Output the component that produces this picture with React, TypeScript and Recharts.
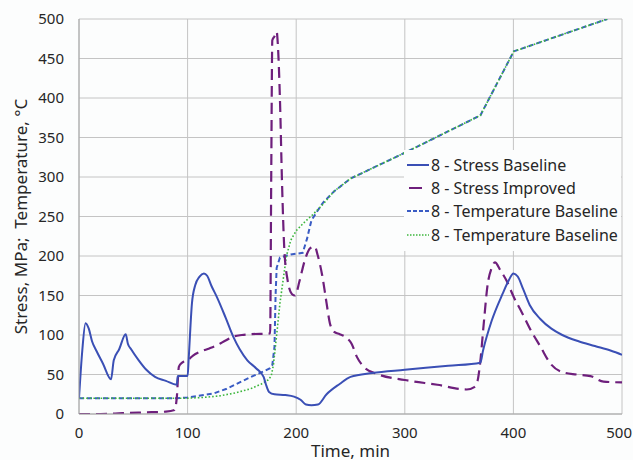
import React from 'react';
import { LineChart, Line, XAxis, YAxis, CartesianGrid, Legend } from 'recharts';

// time (min) / value pairs
const stressBaselineT = [0, 3, 6, 9, 12, 16, 22, 29.5, 32, 37, 43, 45, 48, 55, 62, 70, 80, 90, 91, 100, 101, 104, 107, 111, 115, 118, 122, 127, 135, 142, 148, 155, 163, 170, 172, 175, 180, 190, 198, 204, 209, 214, 220, 228, 240, 250, 270, 300, 340, 369.6, 372, 380, 390, 396, 400, 404, 409, 415, 425, 435, 445, 460, 475, 490, 500];
const stressBaselineV = [20, 80, 115, 108, 92, 80, 64, 44, 68, 82, 101, 89, 82, 68, 56, 47, 42, 37, 48, 48, 70, 140, 163, 174, 178, 175, 162, 148, 122, 98, 82, 68, 58, 47, 38, 28, 25, 24, 22, 18, 12, 11, 12, 25, 38, 47, 52, 56, 61, 65, 80, 118, 152, 170, 178, 174, 158, 138, 120, 108, 100, 92, 86, 80, 75];

const stressImprovedT = [0, 20, 40, 60, 80, 88, 90, 92, 95, 100, 105, 112, 120, 127, 135, 142, 150, 158, 176, 177, 178, 180, 182, 183, 185, 187, 189, 192, 196, 199, 203, 208, 213, 217, 220, 224, 228, 231, 235, 240, 246, 251, 256, 262, 274, 300, 330, 357, 364, 367, 369, 373, 376, 380, 383, 388, 394, 400, 408, 416, 425, 434, 445, 458, 471, 483, 500];
const stressImprovedV = [0, 0, 1, 2, 3, 5, 20, 60, 65, 68, 74, 79, 83, 87, 93, 98, 100, 101, 102, 300, 473, 478, 484, 470, 400, 290, 210, 170, 152, 150, 168, 195, 210, 212, 200, 175, 140, 115, 104, 101, 97, 89, 72, 60, 51, 43, 37, 31, 34, 42, 60, 119, 161, 185, 192, 182, 168, 149, 128, 106, 85, 64, 53, 50, 48, 41, 40];

const tempBaselineT = [0, 90, 100, 110, 124, 136, 148, 160, 170, 176, 178, 180, 181, 182, 185, 195, 206, 210, 214, 220, 225, 235, 250, 302, 369.6, 400.3, 486.5];
const tempBaselineV = [20, 20, 21, 23, 26, 32, 40, 48, 54, 58, 62, 85, 150, 185, 198, 202, 204, 222, 245, 258, 268, 282, 298, 332, 378, 459, 500];

const tempBaseline2T = [0, 100, 115, 130, 145, 158, 168, 174, 177, 179, 182, 185, 188, 191, 195, 200, 207, 215, 225, 235, 250, 302, 369.6, 400.3, 486.5];
const tempBaseline2V = [20, 20, 21, 23, 27, 32, 38, 43, 48, 62, 100, 140, 170, 200, 220, 232, 242, 252, 266, 282, 298, 332, 378, 459, 500];

const xTicks = [0, 100, 200, 300, 400, 500];
const yTicks = [0, 50, 100, 150, 200, 250, 300, 350, 400, 450, 500];

const seriesNames = [
  '8 - Stress Baseline',
  '8 - Stress Improved',
  '8 - Temperature Baseline',
  '8 - Temperature Baseline',
];

const zip = (t: number[], v: number[]) => t.map((x, i) => ({ t: x, v: v[i] }));

const stressBaseline = zip(stressBaselineT, stressBaselineV);
const stressImproved = zip(stressImprovedT, stressImprovedV);
const tempBaseline = zip(tempBaselineT, tempBaselineV);
const tempBaseline2 = zip(tempBaseline2T, tempBaseline2V);

const FONT = '"Noto Sans", "Open Sans", sans-serif';
const TEXT = '#262626';

const COLORS = {
  stressBase: '#3a4fb5',
  stressImp: '#6e1f7c',
  tempBase: '#3a5cc4',
  tempBase2: '#3db63d',
};

// legend swatches: stroke + dash for each entry
const legendStyles = [
  { color: COLORS.stressBase, dash: undefined, width: 2, x1: 0, x2: 22 },
  { color: COLORS.stressImp, dash: undefined, width: 2, x1: 2, x2: 15 },
  { color: COLORS.tempBase, dash: '4 2', width: 2, x1: 0, x2: 22 },
  { color: COLORS.tempBase2, dash: '1.5 1.5', width: 1.5, x1: 0, x2: 22 },
];

const LegendBox: React.FC = () => (
  <div style={{ background: '#fcfdfd', padding: '3px 0 5px 3px', fontFamily: FONT, fontSize: 16, color: TEXT }}>
    {seriesNames.map((name, i) => {
      const s = legendStyles[i];
      return (
        <div key={i} style={{ display: 'flex', alignItems: 'center', height: 23.3, whiteSpace: 'nowrap' }}>
          <svg width={23} height={10} style={{ marginRight: 1, flexShrink: 0 }}>
            <line x1={s.x1} x2={s.x2} y1={5} y2={5} stroke={s.color} strokeWidth={s.width} strokeDasharray={s.dash} />
          </svg>
          <span>{name}</span>
        </div>
      );
    })}
  </div>
);

// x tick: keep the last label inside the picture
const XTick = (props: any) => {
  const { x, y, payload } = props;
  const last = payload.value === 500;
  return (
    <text x={last ? 632 : x} y={y} dy="0.71em" textAnchor={last ? 'end' : 'middle'}
      fontFamily={FONT} fontSize={15} fill={TEXT}>
      {payload.value}
    </text>
  );
};

const YTitle = (props: any) => {
  const { viewBox } = props;
  const cx = 20;
  const cy = viewBox.y + viewBox.height / 2;
  return (
    <text x={cx} y={cy} transform={`rotate(-90, ${cx}, ${cy})`} textAnchor="middle" dominantBaseline="central"
      fontFamily={FONT} fontSize={17} fill={TEXT} style={{ whiteSpace: 'pre' }}>
      {'Stress, MPa;  Temperature, °C'}
    </text>
  );
};

const XTitle = (props: any) => {
  const { viewBox } = props;
  return (
    <text x={viewBox.x + viewBox.width / 2} y={viewBox.y + 36} textAnchor="middle" dominantBaseline="central"
      fontFamily={FONT} fontSize={17} fill={TEXT}>
      Time, min
    </text>
  );
};

const App: React.FC = () => {
  return (
    <div style={{ position: 'absolute', left: 0, top: 0, width: 633, height: 460, background: '#fcfdfd' }}>
      <LineChart width={633} height={460} margin={{ top: 19, right: 11, left: 0, bottom: 0 }}>
        <CartesianGrid stroke="#c4c4c4" strokeWidth={1} />
        <XAxis
          type="number"
          dataKey="t"
          domain={[0, 500]}
          ticks={xTicks}
          allowDataOverflow
          height={46}
          tickLine={false}
          tickMargin={7}
          stroke="#a6a6a6"
          tick={<XTick />}
          label={<XTitle />}
        />
        <YAxis
          type="number"
          domain={[0, 500]}
          ticks={yTicks}
          allowDataOverflow
          width={79}
          tickLine={false}
          tickMargin={9}
          stroke="#a6a6a6"
          tick={{ fontSize: 15, fill: TEXT, fontFamily: FONT }}
          label={<YTitle />}
        />
        <Legend
          layout="vertical"
          align="center"
          verticalAlign="middle"
          wrapperStyle={{ top: 150, left: 404, width: 217 }}
          content={() => <LegendBox />}
        />
        <Line data={tempBaseline} dataKey="v" name={seriesNames[2]} type="linear" stroke={COLORS.tempBase}
          strokeWidth={2} strokeDasharray="5 3" dot={false} isAnimationActive={false} />
        <Line data={tempBaseline2} dataKey="v" name={seriesNames[3]} type="linear" stroke={COLORS.tempBase2}
          strokeWidth={1.6} strokeDasharray="1.6 2" dot={false} isAnimationActive={false} />
        <Line data={stressImproved} dataKey="v" name={seriesNames[1]} type="monotone" stroke={COLORS.stressImp}
          strokeWidth={2.2} strokeDasharray="11 6" dot={false} isAnimationActive={false} />
        <Line data={stressBaseline} dataKey="v" name={seriesNames[0]} type="monotone" stroke={COLORS.stressBase}
          strokeWidth={2} dot={false} isAnimationActive={false} />
      </LineChart>
    </div>
  );
};

export default App;
